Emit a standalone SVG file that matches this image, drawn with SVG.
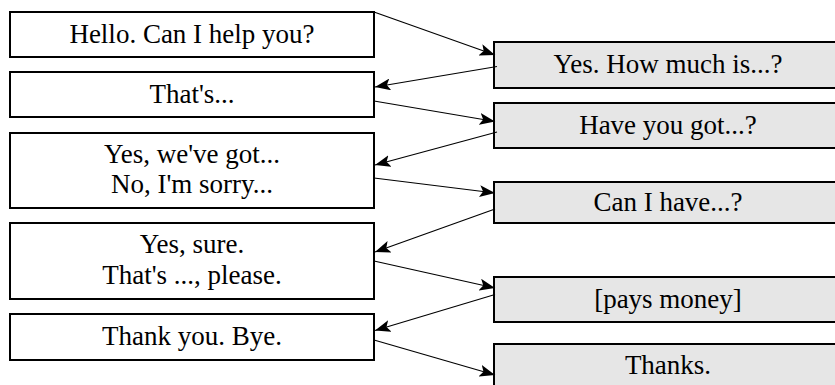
<svg xmlns="http://www.w3.org/2000/svg" width="835" height="385" viewBox="0 0 835 385">
  <style>
    .box { fill: #ffffff; stroke: #000000; stroke-width: 2; }
    .reply { fill: #e6e6e6; stroke: #000000; stroke-width: 2; }
    .label { font-family: "Liberation Serif", "Times New Roman", serif; font-size: 27px; fill: #000000; text-anchor: middle; }
    .link { fill: none; stroke: #000000; stroke-width: 1.2; marker-end: url(#head); }
  </style>
  <defs>
    <marker id="head" markerUnits="userSpaceOnUse" markerWidth="16" markerHeight="12" refX="15.5" refY="6" orient="auto" viewBox="0 0 16 12">
      <path d="M0,0 L15.5,6 L0,12 L3.5,6 z" fill="#000000"/>
    </marker>
  </defs>

  <rect width="835" height="385" fill="#ffffff"/>

  <!-- shop assistant lines -->
  <g id="hello">
    <rect class="box" x="10" y="12" width="364" height="45"/>
    <text class="label" x="192" y="43">Hello. Can I help you?</text>
  </g>
  <g id="thats">
    <rect class="box" x="10" y="72" width="364" height="45"/>
    <text class="label" x="192" y="103">That's...</text>
  </g>
  <g id="got">
    <rect class="box" x="10" y="133" width="364" height="75"/>
    <text class="label" x="192" y="163">Yes, we've got...</text>
    <text class="label" x="192" y="193">No, I'm sorry...</text>
  </g>
  <g id="sure">
    <rect class="box" x="10" y="223" width="364" height="76"/>
    <text class="label" x="192" y="253">Yes, sure.</text>
    <text class="label" x="192" y="284">That's ..., please.</text>
  </g>
  <g id="bye">
    <rect class="box" x="10" y="314" width="364" height="46"/>
    <text class="label" x="192" y="345">Thank you. Bye.</text>
  </g>

  <!-- customer lines -->
  <g id="howmuch">
    <rect class="reply" x="494" y="42" width="350" height="46"/>
    <text class="label" x="668" y="73">Yes. How much is...?</text>
  </g>
  <g id="haveyougot">
    <rect class="reply" x="494" y="103" width="350" height="45"/>
    <text class="label" x="668" y="134">Have you got...?</text>
  </g>
  <g id="canihave">
    <rect class="reply" x="494" y="182" width="350" height="41"/>
    <text class="label" x="668" y="211">Can I have...?</text>
  </g>
  <g id="pays">
    <rect class="reply" x="494" y="277" width="350" height="45"/>
    <text class="label" x="668" y="308">[pays money]</text>
  </g>
  <g id="thanks">
    <rect class="reply" x="494" y="344" width="350" height="46"/>
    <text class="label" x="668" y="374">Thanks.</text>
  </g>

  <!-- conversation flow -->
  <g id="connectors">
    <line class="link" x1="374" y1="12" x2="495" y2="55"/>
    <line class="link" x1="497" y1="66.5" x2="375" y2="87"/>
    <line class="link" x1="374" y1="101" x2="495" y2="121.5"/>
    <line class="link" x1="497" y1="132" x2="375" y2="165"/>
    <line class="link" x1="374" y1="178" x2="495" y2="193"/>
    <line class="link" x1="495" y1="209" x2="375" y2="252"/>
    <line class="link" x1="374" y1="261" x2="495" y2="288"/>
    <line class="link" x1="495" y1="294.5" x2="375" y2="330.5"/>
    <line class="link" x1="374" y1="340" x2="495" y2="375"/>
  </g>
</svg>
